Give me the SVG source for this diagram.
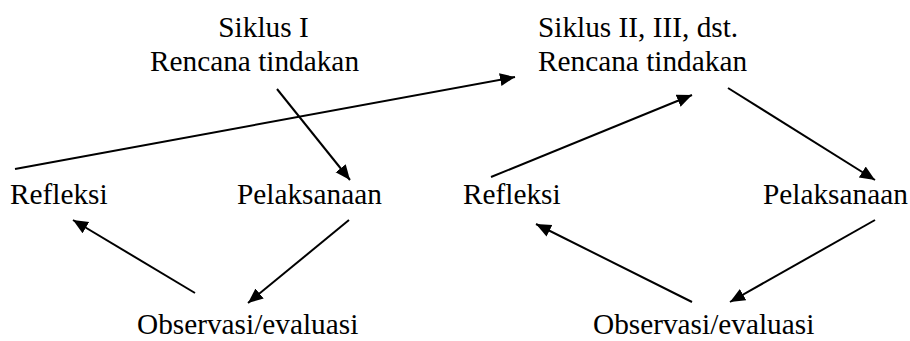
<svg xmlns="http://www.w3.org/2000/svg" width="910" height="341" viewBox="0 0 910 341">
<style>
text{font-family:"Liberation Serif","Times New Roman",serif;font-size:29.3px;fill:#000}
.c line{stroke:#000;stroke-width:2;marker-end:url(#ah)}
</style>
<defs>
<marker id="ah" markerUnits="userSpaceOnUse" markerWidth="16" markerHeight="14" refX="15" refY="6.5" orient="auto">
<path d="M0,0 L15,6.5 L0,13 z" fill="#000"/>
</marker>
</defs>
<rect width="910" height="341" fill="#fff"/>
<g id="n-rencana1"><text x="263.5" y="37" text-anchor="middle">Siklus I</text><text x="254.5" y="71" text-anchor="middle">Rencana tindakan</text></g>
<g id="n-refleksi1"><text x="10" y="204">Refleksi</text></g>
<g id="n-pelaksanaan1"><text x="237" y="204">Pelaksanaan</text></g>
<g id="n-observasi1"><text x="137" y="334">Observasi/evaluasi</text></g>
<g id="n-rencana2"><text x="538" y="37">Siklus II, III, dst.</text><text x="538" y="71">Rencana tindakan</text></g>
<g id="n-refleksi2"><text x="463" y="204">Refleksi</text></g>
<g id="n-pelaksanaan2"><text x="763" y="204">Pelaksanaan</text></g>
<g id="n-observasi2"><text x="593" y="334">Observasi/evaluasi</text></g>
<g id="connectors" class="c">
<line x1="277" y1="89" x2="350" y2="180"/>
<line x1="349" y1="220" x2="248" y2="303"/>
<line x1="195" y1="293" x2="73" y2="220"/>
<line x1="15" y1="169" x2="515" y2="77"/>
<line x1="491" y1="177" x2="692" y2="95"/>
<line x1="728" y1="88" x2="875" y2="180"/>
<line x1="875" y1="220" x2="730" y2="302"/>
<line x1="692" y1="302" x2="536" y2="224"/>
</g>
</svg>
